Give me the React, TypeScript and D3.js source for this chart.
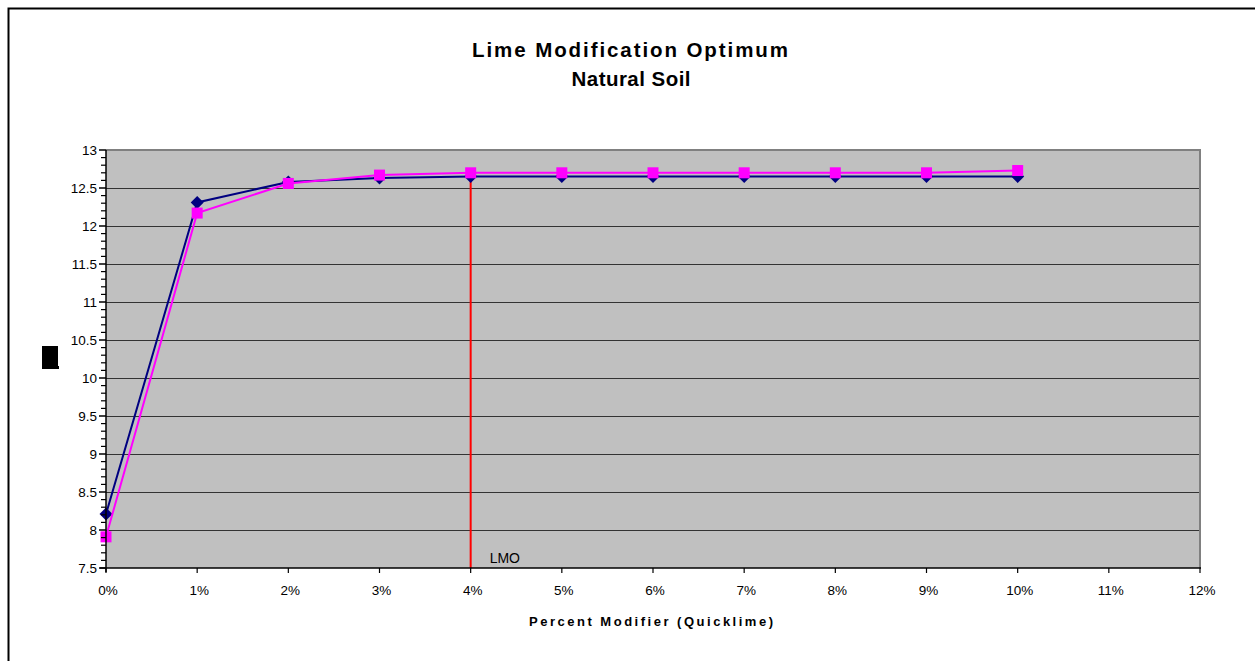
import React from "react";
import * as d3 from "d3";

const xPercent = [0, 1, 2, 3, 4, 5, 6, 7, 8, 9, 10];
const seriesBlue = [8.21, 12.31, 12.58, 12.63, 12.65, 12.65, 12.65, 12.65, 12.65, 12.65, 12.65];
const seriesMagenta = [7.91, 12.17, 12.56, 12.67, 12.7, 12.7, 12.7, 12.7, 12.7, 12.7, 12.73];
const yTicks = [7.5, 8, 8.5, 9, 9.5, 10, 10.5, 11, 11.5, 12, 12.5, 13];
const xTicks = [0, 1, 2, 3, 4, 5, 6, 7, 8, 9, 10, 11, 12];
const lmoX = 4;
const lmoRange = [7.5, 12.69];
const titleLines = ["Lime Modification Optimum", "Natural Soil"];
const xAxisTitle = "Percent Modifier (Quicklime)";
const lmoLabel = "LMO";

const FONT = "'Liberation Sans', Arial, sans-serif";

export default function App() {
  const W = 1255, H = 661;
  const left = 106, right = 1200, top = 150, bottom = 568;
  const x = d3.scaleLinear().domain([0, 12]).range([left, right]);
  const y = d3.scaleLinear().domain([7.5, 13]).range([bottom, top]);
  const line = d3.line<[number, number]>().x(d => x(d[0])).y(d => y(d[1]));
  const blueData: [number, number][] = xPercent.map((p, i) => [p, seriesBlue[i]]);
  const magData: [number, number][] = xPercent.map((p, i) => [p, seriesMagenta[i]]);
  const minorTicks = d3.range(75, 131).map(v => v / 10).filter(v => Math.abs(v * 2 - Math.round(v * 2)) > 1e-6);
  const diamond = "M0,-6.5L6.5,0L0,6.5L-6.5,0Z";

  return (
    <svg width={W} height={H} style={{ position: "absolute", left: 0, top: 0, display: "block" }} fontFamily={FONT}>
      <rect x={0} y={0} width={W} height={H} fill="#fff" />
      <rect x={8.5} y={8.5} width={1300} height={700} fill="none" stroke="#000" strokeWidth={2} />
      {/* title */}
      <text x={630} y={57} textAnchor="middle" fontSize={20.5} fontWeight="bold" textLength={316} lengthAdjust="spacing">{titleLines[0]}</text>
      <text x={631} y={86} textAnchor="middle" fontSize={20.5} fontWeight="bold" textLength={119} lengthAdjust="spacing">{titleLines[1]}</text>
      {/* plot area */}
      <rect x={left} y={top} width={right - left} height={bottom - top} fill="#C0C0C0" />
      {yTicks.filter(v => v > 7.5 && v < 13).map(v => (
        <line key={"g" + v} x1={left} x2={right} y1={Math.round(y(v)) + 0.5} y2={Math.round(y(v)) + 0.5} stroke="#333" strokeWidth={1} />
      ))}
      <line x1={left} x2={right + 1} y1={top} y2={top} stroke="#808080" strokeWidth={2} />
      <line x1={right} x2={right} y1={top} y2={bottom} stroke="#808080" strokeWidth={2} />
      {/* LMO line */}
      <line x1={x(lmoX)} x2={x(lmoX)} y1={y(lmoRange[0])} y2={y(lmoRange[1])} stroke="#FF0000" strokeWidth={2} />
      <text x={x(lmoX) + 19} y={563} fontSize={14}>{lmoLabel}</text>
      {/* series */}
      <path d={line(blueData) || ""} fill="none" stroke="#000080" strokeWidth={2} />
      {blueData.map((d, i) => (
        <path key={"b" + i} d={diamond} transform={`translate(${x(d[0])},${y(d[1])})`} fill="#000080" />
      ))}
      <path d={line(magData) || ""} fill="none" stroke="#FF00FF" strokeWidth={2} />
      {magData.map((d, i) => (
        <rect key={"m" + i} x={x(d[0]) - 5.5} y={y(d[1]) - 5.5} width={11} height={11} fill="#FF00FF" />
      ))}
      {/* axes */}
      <line x1={left} x2={left} y1={top} y2={bottom + 4} stroke="#000" strokeWidth={1.5} />
      <line x1={left - 6} x2={right + 1} y1={bottom} y2={bottom} stroke="#000" strokeWidth={1.5} />
      {yTicks.map(v => (
        <g key={"yt" + v}>
          <line x1={left - 7} x2={left} y1={y(v)} y2={y(v)} stroke="#000" strokeWidth={1.5} />
          <text x={left - 9} y={y(v) + 5} textAnchor="end" fontSize={13.5}>{String(v)}</text>
        </g>
      ))}
      {minorTicks.map(v => (
        <line key={"mt" + v} x1={left - 5} x2={left} y1={y(v)} y2={y(v)} stroke="#000" strokeWidth={1.2} />
      ))}
      {xTicks.map(v => (
        <g key={"xt" + v}>
          <line x1={x(v)} x2={x(v)} y1={bottom} y2={bottom + 5} stroke="#000" strokeWidth={1.2} />
          <text x={x(v) + 2} y={595} textAnchor="middle" fontSize={13.5}>{v + "%"}</text>
        </g>
      ))}
      <text x={651} y={626} textAnchor="middle" fontSize={13} fontWeight="bold" textLength={244} lengthAdjust="spacing">{xAxisTitle}</text>
      {/* y-axis title glyph box */}
      <rect x={42} y={346} width={16} height={23} fill="#000" />
      <rect x={57} y={366} width={2} height={3} fill="#000" />
    </svg>
  );
}
